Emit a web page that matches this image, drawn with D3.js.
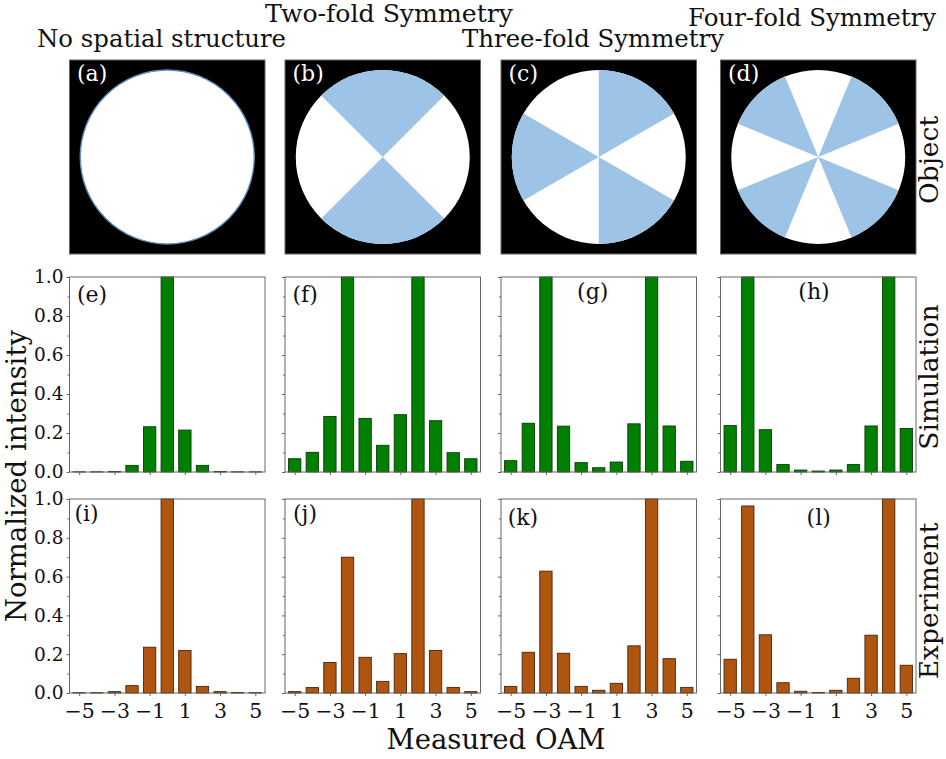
<!DOCTYPE html>
<html><head><meta charset="utf-8">
<script src="https://cdn.jsdelivr.net/npm/d3@7"></script>
<style>
body{margin:0;background:#fff}
text{font-family:"DejaVu Serif",serif;fill:#111}
</style>
</head><body>
<svg id="chart" width="946" height="759"></svg>
<script>
// ---------------- data ----------------
const oam = [-5,-4,-3,-2,-1,0,1,2,3,4,5];
const xTicks = [-5,-3,-1,1,3,5];
const yTicks = [0,0.2,0.4,0.6,0.8,1.0];
const yMinor = [0.1,0.3,0.5,0.7,0.9];
const titles = ["No spatial structure","Two-fold Symmetry","Three-fold Symmetry","Four-fold Symmetry"];
const folds = [0,2,3,4];
const sectorStart = [0,-45,0,22.5];   // degrees, first blue sector start (clockwise from 12 o'clock)
const rowLabels = ["Object","Simulation","Experiment"];
const panelLetters = [["(a)","(b)","(c)","(d)"],["(e)","(f)","(g)","(h)"],["(i)","(j)","(k)","(l)"]];

const simNone  = [0.001,0.001,0.003,0.034,0.232,1.0,0.215,0.034,0.003,0.001,0.001];
const simTwo   = [0.068,0.101,0.285,1.0,0.275,0.137,0.294,1.0,0.263,0.099,0.068];
const simThree = [0.058,0.250,1.0,0.235,0.048,0.022,0.051,0.247,1.0,0.236,0.055];
const simFour  = [0.238,1.0,0.217,0.038,0.010,0.005,0.010,0.038,0.236,1.0,0.223];
const expNone  = [0.002,0.002,0.007,0.038,0.236,1.0,0.219,0.034,0.007,0.003,0.002];
const expTwo   = [0.007,0.028,0.157,0.700,0.184,0.060,0.203,1.0,0.219,0.029,0.007];
const expThree = [0.034,0.210,0.628,0.205,0.034,0.014,0.050,0.243,1.0,0.177,0.029];
const expFour  = [0.174,0.964,0.300,0.053,0.009,0.003,0.014,0.076,0.298,1.0,0.143];
const simRows = [simNone, simTwo, simThree, simFour];
const expRows = [expNone, expTwo, expThree, expFour];

// ---------------- layout ----------------
const svg = d3.select("#chart");
svg.append("rect").attr("width",946).attr("height",759).attr("fill","#fff");
const colLeft = [69.5, 285, 501, 720.5];
const W = 195.5;
const rowTop = [60, 277, 499];
const rowH = [194, 195, 194];
const spineColor = "#666";
const green = "#007f00", orange = "#b0550f", blue = "#9dc3e6";

// titles
const titlePos = [[161.5,46.5,249],[389,22,248],[593,47,262],[812,26,248]];
titles.forEach((t,i)=>{
  svg.append("text").attr("x",titlePos[i][0]).attr("y",titlePos[i][1])
    .attr("text-anchor","middle").attr("font-size",24)
    .attr("textLength",titlePos[i][2]).attr("lengthAdjust","spacingAndGlyphs")
    .text(t);
});

// ---------------- object images ----------------
const deg = Math.PI/180;
folds.forEach((n,i)=>{
  const g = svg.append("g");
  const x0 = colLeft[i], y0 = rowTop[0];
  const cx = x0 + W/2, cy = y0 + rowH[0]/2, r = 87;
  g.append("rect").attr("x",x0).attr("y",y0).attr("width",W).attr("height",rowH[0])
    .attr("fill","#000").attr("stroke",spineColor).attr("stroke-width",1);
  g.append("circle").attr("cx",cx).attr("cy",cy).attr("r",r).attr("fill","#fff")
    .attr("stroke", n===0 ? "#5f8fc2" : "none").attr("stroke-width",1.4);
  if(n>0){
    const step = 180/n;
    const arc = d3.arc().innerRadius(0).outerRadius(r);
    d3.range(n).forEach(k=>{
      const a0 = (sectorStart[i] + k*2*step)*deg;
      g.append("path").attr("transform",`translate(${cx},${cy})`)
        .attr("d",arc({startAngle:a0,endAngle:a0+step*deg}))
        .attr("fill",blue);
    });
  }
  svg.append("text").attr("x",x0+7.5).attr("y",y0+21).attr("font-size",22)
    .style("fill","#fff").text(panelLetters[0][i]);
});

// ---------------- bar panels ----------------
const fmt = d => d<0 ? "\u2212"+Math.abs(d) : String(d);
const labelSpec = [
  [[7.5,302,"start"],[7.5,302,"start"],[91.7,298.5,"middle"],[93.5,298.5,"middle"]],
  [[5,521,"start"],[8,521,"start"],[6.7,525,"start"],[98.2,525,"middle"]]
];
[simRows, expRows].forEach((rows, ri)=>{
  const top = rowTop[ri+1], h = rowH[ri+1];
  rows.forEach((vals, ci)=>{
    const left = colLeft[ci];
    const x = d3.scaleLinear().domain([-5.55,5.55]).range([left,left+W]);
    const y = d3.scaleLinear().domain([0,1]).range([top+h, top]);
    const g = svg.append("g");
    const bw = x(0.7)-x(0);
    g.selectAll("rect.bar").data(oam.map((o,k)=>({o,v:vals[k]}))).join("rect")
      .attr("class","bar")
      .attr("x",d=>x(d.o)-bw/2).attr("width",bw)
      .attr("y",d=>y(d.v)).attr("height",d=>y(0)-y(d.v))
      .attr("fill", ri===0 ? green : orange)
      .attr("stroke", ri===0 ? "#063d06" : "#4a2408").attr("stroke-width",0.9);
    // x axis
    const xa = g.append("g").attr("transform",`translate(0,${top+h})`)
      .call(d3.axisBottom(x).tickValues(xTicks).tickSize(3).tickPadding(3)
        .tickFormat(ri===1 ? fmt : ""));
    xa.select(".domain").remove();
    xa.selectAll("line").attr("stroke",spineColor);
    xa.selectAll("text").attr("font-size",20.5).attr("dy","0.95em")
      .style("font-family","DejaVu Serif").style("fill","#111");
    // y axis major
    const ya = g.append("g").attr("transform",`translate(${left},0)`)
      .call(d3.axisLeft(y).tickValues(yTicks).tickSize(3).tickPadding(3)
        .tickFormat(ci===0 ? d3.format(".1f") : ""));
    ya.select(".domain").remove();
    ya.selectAll("line").attr("stroke",spineColor);
    ya.selectAll("text").attr("font-size",18.5)
      .style("font-family","DejaVu Serif").style("fill","#111");
    // y axis minor
    const ym = g.append("g").attr("transform",`translate(${left},0)`)
      .call(d3.axisLeft(y).tickValues(yMinor).tickSize(2).tickFormat(""));
    ym.select(".domain").remove();
    ym.selectAll("line").attr("stroke",spineColor);
    // frame
    g.append("rect").attr("x",left).attr("y",top).attr("width",W).attr("height",h)
      .attr("fill","none").attr("stroke",spineColor).attr("stroke-width",1);
    const ls = labelSpec[ri][ci];
    svg.append("text").attr("x",left+ls[0]).attr("y",ls[1]).attr("text-anchor",ls[2])
      .attr("font-size",22).text(panelLetters[ri+1][ci]);
  });
});

// ---------------- row labels ----------------
const rowLabelY = [160, 377, 601];
rowLabels.forEach((t,i)=>{
  svg.append("text").attr("transform",`translate(938,${rowLabelY[i]}) rotate(-90)`)
    .attr("text-anchor","middle").attr("font-size",26.5).text(t);
});

// axis titles
svg.append("text").attr("transform","translate(26,476) rotate(-90)")
  .attr("text-anchor","middle").attr("font-size",27.5).text("Normalized intensity");
svg.append("text").attr("x",496).attr("y",749).attr("text-anchor","middle")
  .attr("font-size",27.5).text("Measured OAM");
</script>
</body></html>
